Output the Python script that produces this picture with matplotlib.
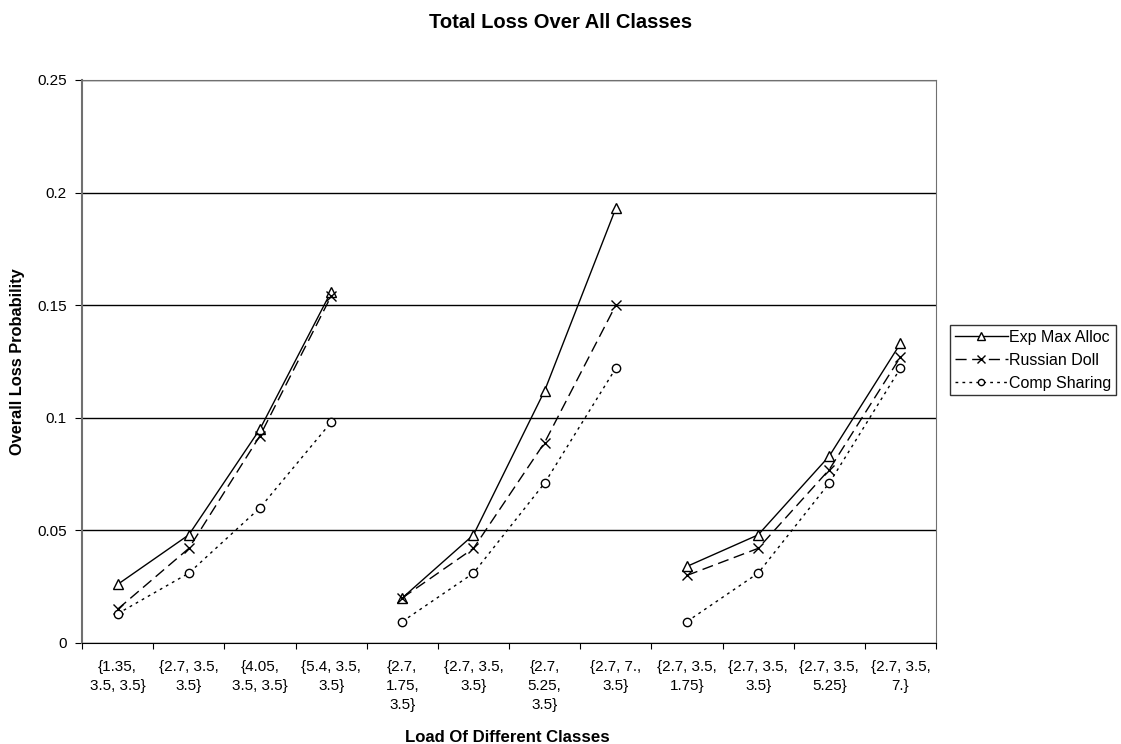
import numpy as np
import matplotlib.pyplot as plt

plt.rcParams['font.family'] = ['Liberation Sans', 'DejaVu Sans']

# categorias (carga de cada classe)
categorias = ["{1.35,\n3.5, 3.5}", "{2.7, 3.5,\n3.5}", "{4.05,\n3.5, 3.5}", "{5.4, 3.5,\n3.5}",
              "{2.7,\n1.75,\n3.5}", "{2.7, 3.5,\n3.5}", "{2.7,\n5.25,\n3.5}", "{2.7, 7.,\n3.5}",
              "{2.7, 3.5,\n1.75}", "{2.7, 3.5,\n3.5}", "{2.7, 3.5,\n5.25}", "{2.7, 3.5,\n7.}"]

exp_max_alloc = [0.026, 0.048, 0.095, 0.156,
                 0.020, 0.048, 0.112, 0.193,
                 0.034, 0.048, 0.083, 0.133]
russian_doll = [0.015, 0.042, 0.092, 0.154,
                0.020, 0.042, 0.089, 0.150,
                0.030, 0.042, 0.077, 0.127]
comp_sharing = [0.013, 0.031, 0.060, 0.098,
                0.0095, 0.031, 0.071, 0.122,
                0.0095, 0.031, 0.071, 0.122]

yticks = [0, 0.05, 0.1, 0.15, 0.2, 0.25]
ytick_labels = ['0', '0.05', '0.1', '0.15', '0.2', '0.25']

grupos = [range(0, 4), range(4, 8), range(8, 12)]

fig = plt.figure(figsize=(11.21, 7.44), dpi=100)
ax = fig.add_axes([0.0732, 0.1358, 0.7618, 0.7567])

series = [
    (exp_max_alloc, 'Exp Max Alloc', '^', '-', 7),
    (russian_doll, 'Russian Doll', 'x', (0, (8, 4)), 7),
    (comp_sharing, 'Comp Sharing', 'o', (0, (2, 3)), 6),
]

for valores, nome, marcador, estilo, tam in series:
    for k, g in enumerate(grupos):
        xs = [i + 0.5 for i in g]
        ys = [valores[i] for i in g]
        ax.plot(xs, ys, color='black', linestyle=estilo, linewidth=1,
                marker=marcador, markersize=tam, markerfacecolor='white',
                markeredgecolor='black', markeredgewidth=1,
                label=nome if k == 0 else None)

# Eixos
ax.set_xlim(0, 12)
ax.set_ylim(0, 0.25)
ax.set_yticks(yticks)
ax.set_yticklabels(ytick_labels, fontsize=11)
ax.yaxis.grid(True, color='black', linewidth=1)
ax.set_axisbelow(True)

ax.set_xticks(np.arange(0, 13))
ax.set_xticklabels([])
ax.set_xticks(np.arange(12) + 0.5, minor=True)
ax.set_xticklabels(categorias, minor=True, fontsize=11, linespacing=1.48, va='top')
ax.tick_params(axis='x', which='minor', length=0, pad=12)
ax.tick_params(axis='x', which='major', length=4, direction='out')
ax.tick_params(axis='y', length=5, direction='out', pad=6)

for lado in ['top', 'right', 'left']:
    ax.spines[lado].set_color('#707070')
ax.spines['left'].set_linewidth(1.5)
ax.spines['bottom'].set_color('black')

fig.text(18 / 1121, 0.5 * (0.1358 + 0.8925), 'Overall Loss Probability', rotation=90,
         ha='center', va='center', fontsize=11.8, fontweight='bold')
fig.text(0.4527, 0.003, 'Load Of Different Classes', ha='center', va='baseline',
         fontsize=12.1, fontweight='bold')
fig.text(0.5, 0.9624, 'Total Loss Over All Classes', ha='center', va='baseline',
         fontsize=14.5, fontweight='bold')

leg = ax.legend(loc='center left', bbox_to_anchor=(1.0164, 0.5025), fontsize=11.5,
                frameon=True, fancybox=False, edgecolor='black', borderpad=0.3,
                handlelength=3.3, handletextpad=0.1, labelspacing=0.5, borderaxespad=0,
                markerscale=0.75)
leg.get_frame().set_linewidth(1)

fig.savefig('out.png', dpi=100)
